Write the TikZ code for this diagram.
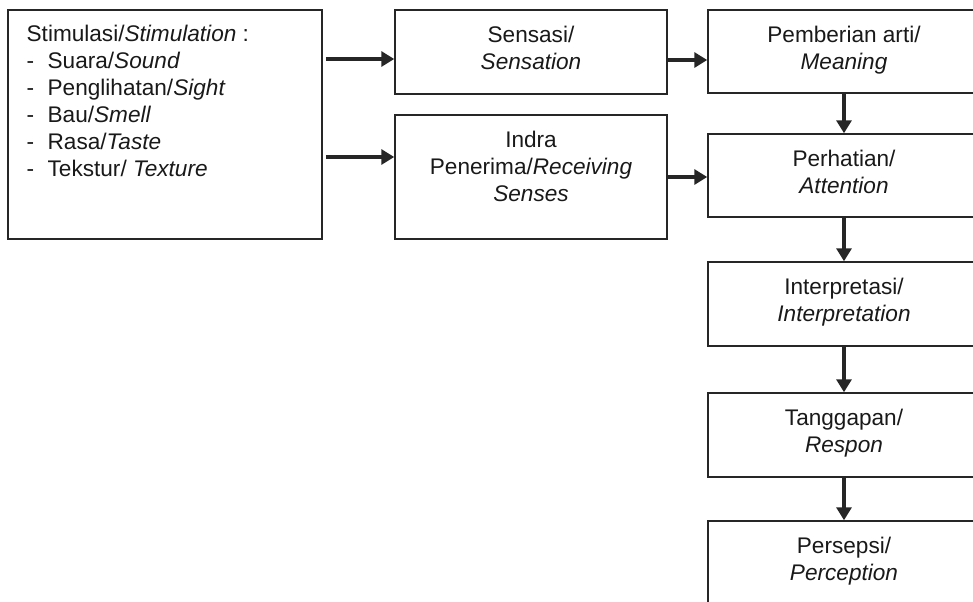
\documentclass[tikz,border=0pt]{standalone}
\usepackage{fontspec}
\setmainfont{Liberation Sans}
\usetikzlibrary{positioning, arrows.meta}
\tikzset{
    box/.style={rectangle, draw=black!85, line width=0.75pt, inner sep=0pt, minimum width=136pt},
    txt/.style={inner sep=0pt, align=center, text=black!90},
    arr/.style={-{Triangle[length=6.5pt, width=7.5pt]}, line width=1.6pt, draw=black!85},
}
\newcommand{\listdash}{\makebox[10.5pt][l]{-}}

\begin{document}
\begin{tikzpicture}[x=0.5pt, y=-0.5pt, font=\fontsize{11.3}{13.5}\selectfont]
    \useasboundingbox (0,0) rectangle (973,601);
    \clip (0,0) rectangle (973,601);

    % boxes
    \node[box, minimum width=157pt, minimum height=114.5pt] (stim) at (165,124.5) {};
    \node[box, minimum height=42pt] (sens) at (531,52) {};
    \node[box, minimum height=62pt] (indra) at (531,177) {};
    \node[box, minimum height=41.5pt] (mean) at (844,51.5) {};
    \node[box, minimum height=41.5pt] (atten) at (844,175.5) {};
    \node[box, minimum height=42pt] (interp) at (844,304) {};
    \node[box, minimum height=42pt] (resp) at (844,435) {};
    \node[box, minimum height=42pt] (perc) at (844,563) {};

    % texts
    \node[txt, align=left, below right=7.5pt and 9.5pt of stim.north west] (stimt)
        {Stimulasi/\textit{Stimulation} :\\
         \listdash Suara/\textit{Sound}\\
         \listdash Penglihatan/\textit{Sight}\\
         \listdash Bau/\textit{Smell}\\
         \listdash Rasa/\textit{Taste}\\
         \listdash Tekstur/ \textit{Texture}};
    \node[txt, below=8pt of sens.north] (senst) {Sensasi/\\\textit{Sensation}};
    \node[txt, below=8pt of indra.north] (indrat) {Indra\\Penerima/\textit{Receiving}\\\textit{Senses}};
    \node[txt, below=8pt of mean.north] (meant) {Pemberian arti/\\\textit{Meaning}};
    \node[txt, below=8pt of atten.north] (attent) {Perhatian/\\\textit{Attention}};
    \node[txt, below=8pt of interp.north] (interpt) {Interpretasi/\\\textit{Interpretation}};
    \node[txt, below=8pt of resp.north] (respt) {Tanggapan/\\\textit{Respon}};
    \node[txt, below=8pt of perc.north] (perct) {Persepsi/\\\textit{Perception}};

    % arrows
    \draw[arr] ([xshift=1.5pt, yshift=-3.5pt]stim.east |- sens.west) -- ([yshift=-3.5pt]sens.west);
    \draw[arr] ([xshift=1.5pt, yshift=10pt]stim.east |- indra.west) -- ([yshift=10pt]indra.west);
    \draw[arr] ([yshift=-4pt]sens.east) -- ([yshift=-4pt]sens.east -| mean.west);
    \draw[arr] (indra.east) -- (indra.east -| atten.west);
    \foreach \a/\b in {mean/atten, atten/interp, interp/resp, resp/perc}
        \draw[arr] (\a.south) -- (\b.north);
\end{tikzpicture}
\end{document}
